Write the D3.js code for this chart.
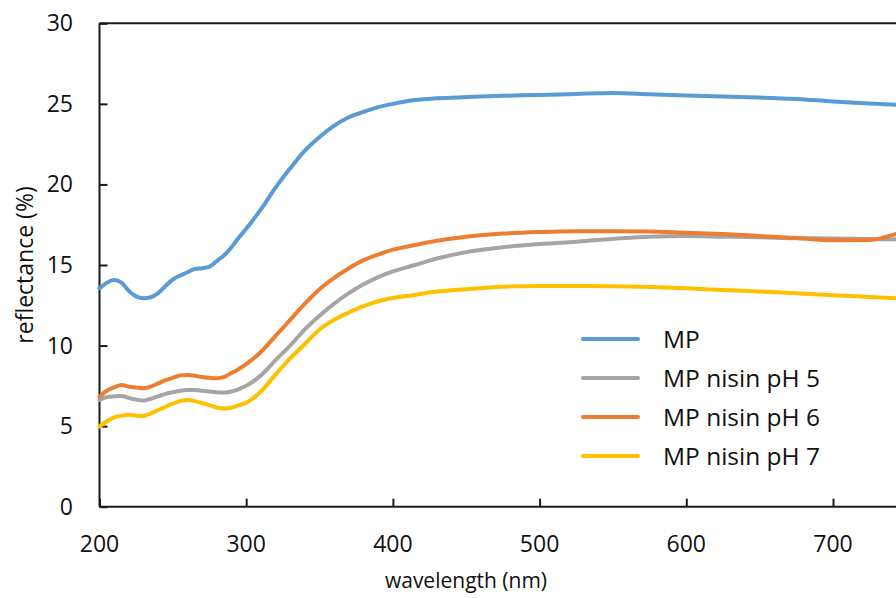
<!DOCTYPE html>
<html>
<head>
<meta charset="utf-8">
<script src="https://cdn.jsdelivr.net/npm/d3@7/dist/d3.min.js"></script>
<style>
  html, body { margin: 0; padding: 0; background: #fff; }
  svg { display: block; font-family: "Open Sans", "Liberation Sans", sans-serif; }
</style>
</head>
<body>
<svg id="chart" width="896" height="598"></svg>
<script>
// Wavelength grid (nm)
const wavelength = [200, 205, 210, 215, 220, 225, 230, 235, 240, 245, 250, 255, 260, 265, 270, 275, 280, 285, 290, 295,
  300, 310, 320, 330, 340, 350, 360, 370, 380, 390, 400, 415, 430, 450, 475, 500, 525, 550, 575, 600,
  625, 650, 675, 700, 725, 735, 745];

// Reflectance (%) per sample
const mp = [13.56, 13.9, 14.07, 13.9, 13.4, 13.05, 12.94, 13.0, 13.25, 13.7, 14.1, 14.35, 14.55, 14.75, 14.8, 14.9, 15.25, 15.6, 16.1, 16.7,
  17.25, 18.45, 19.8, 21.0, 22.1, 22.95, 23.65, 24.17, 24.5, 24.8, 25.0, 25.24, 25.35, 25.42, 25.5, 25.55, 25.62, 25.68, 25.6, 25.52,
  25.45, 25.39, 25.3, 25.15, 25.03, 24.98, 24.93];
const ph5 = [6.62, 6.8, 6.85, 6.87, 6.75, 6.65, 6.58, 6.7, 6.85, 7.0, 7.1, 7.2, 7.24, 7.24, 7.2, 7.15, 7.1, 7.08, 7.15, 7.3,
  7.5, 8.15, 9.1, 10.0, 11.0, 11.85, 12.6, 13.25, 13.8, 14.25, 14.6, 15.0, 15.4, 15.8, 16.1, 16.3, 16.45, 16.62, 16.76, 16.8,
  16.76, 16.72, 16.66, 16.65, 16.62, 16.6, 16.6];
const ph6 = [6.83, 7.2, 7.4, 7.55, 7.45, 7.4, 7.35, 7.45, 7.65, 7.85, 8.0, 8.15, 8.18, 8.13, 8.05, 8.0, 7.97, 8.05, 8.3, 8.55,
  8.85, 9.6, 10.6, 11.6, 12.6, 13.5, 14.2, 14.8, 15.3, 15.65, 15.95, 16.24, 16.5, 16.75, 16.95, 17.05, 17.1, 17.1, 17.08, 17.0,
  16.92, 16.8, 16.67, 16.53, 16.55, 16.72, 17.0];
const ph7 = [4.97, 5.3, 5.55, 5.65, 5.7, 5.65, 5.63, 5.8, 6.0, 6.2, 6.4, 6.55, 6.62, 6.55, 6.42, 6.3, 6.15, 6.1, 6.15, 6.3,
  6.45, 7.15, 8.2, 9.2, 10.1, 11.0, 11.6, 12.05, 12.45, 12.75, 12.95, 13.14, 13.35, 13.5, 13.65, 13.7, 13.7, 13.68, 13.63, 13.55,
  13.45, 13.35, 13.25, 13.12, 13.02, 12.97, 12.92];

const seriesNames = ["MP", "MP nisin pH 5", "MP nisin pH 6", "MP nisin pH 7"];
const seriesColors = ["#5B9BD5", "#A5A5A5", "#ED7D31", "#FFC000"];
const xTicks = [200, 300, 400, 500, 600, 700];
const yTicks = [0, 5, 10, 15, 20, 25, 30];

const series = [mp, ph5, ph6, ph7].map((vals, i) => ({
  name: seriesNames[i],
  color: seriesColors[i],
  points: wavelength.map((w, j) => [w, vals[j]])
}));

const svg = d3.select("#chart");
const plotLeft = 99.5, plotTop = 23.3, plotBottom = 506.7;
const pxPerNm = 1.467;

const x = d3.scaleLinear().domain([200, 800]).range([plotLeft, plotLeft + 600 * pxPerNm]);
const y = d3.scaleLinear().domain([0, 30]).range([plotBottom, plotTop]);

const axisColor = "#1a1a1a";

// Frame: top border
svg.append("line")
  .attr("x1", plotLeft).attr("x2", x(800))
  .attr("y1", plotTop).attr("y2", plotTop)
  .attr("stroke", axisColor).attr("stroke-width", 2);

// Y axis (ticks pointing inward)
const yAxis = svg.append("g")
  .attr("transform", `translate(${plotLeft},0)`)
  .call(d3.axisRight(y).tickValues(yTicks).tickSize(8).tickFormat(""));
yAxis.select(".domain").remove();
yAxis.selectAll("line").attr("stroke", axisColor).attr("stroke-width", 2);
svg.append("line")
  .attr("x1", plotLeft).attr("x2", plotLeft).attr("y1", plotTop).attr("y2", plotBottom)
  .attr("stroke", axisColor).attr("stroke-width", 2);

svg.append("g").selectAll("text")
  .data(yTicks).join("text")
  .attr("x", 73).attr("y", d => y(d))
  .attr("dy", "0.35em")
  .attr("text-anchor", "end")
  .attr("font-size", 23).attr("fill", "#111")
  .text(d => d);

// X axis (ticks pointing inward)
const xAxis = svg.append("g")
  .attr("transform", `translate(0,${plotBottom})`)
  .call(d3.axisTop(x).tickValues([...xTicks, 800]).tickSize(8).tickFormat(""));
xAxis.select(".domain").remove();
xAxis.selectAll("line").attr("stroke", axisColor).attr("stroke-width", 2);
svg.append("line")
  .attr("x1", plotLeft).attr("x2", x(800)).attr("y1", plotBottom).attr("y2", plotBottom)
  .attr("stroke", axisColor).attr("stroke-width", 2);

svg.append("g").selectAll("text")
  .data(xTicks).join("text")
  .attr("x", d => x(d)).attr("y", 552)
  .attr("text-anchor", "middle")
  .attr("font-size", 23).attr("fill", "#111")
  .text(d => d);

// Axis titles
svg.append("text")
  .attr("x", 466).attr("y", 588)
  .attr("text-anchor", "middle")
  .attr("font-size", 21).attr("fill", "#111")
  .text("wavelength (nm)");

svg.append("text")
  .attr("transform", `translate(33,${(plotTop + plotBottom) / 2}) rotate(-90)`)
  .attr("text-anchor", "middle")
  .attr("font-size", 23).attr("fill", "#111")
  .text("reflectance (%)");

// Spectra
const line = d3.line()
  .x(d => x(d[0]))
  .y(d => y(d[1]))
  .curve(d3.curveMonotoneX);

svg.append("g").selectAll("path")
  .data(series).join("path")
  .attr("d", d => line(d.points))
  .attr("fill", "none")
  .attr("stroke", d => d.color)
  .attr("stroke-width", 4)
  .attr("stroke-linejoin", "round")
  .attr("stroke-linecap", "round");

// Legend
const legend = svg.append("g");
const legendRows = legend.selectAll("g")
  .data(series).join("g")
  .attr("transform", (d, i) => `translate(583,${339 + i * 39})`);
legendRows.append("line")
  .attr("x1", 0).attr("x2", 55)
  .attr("stroke", d => d.color)
  .attr("stroke-width", 4)
  .attr("stroke-linecap", "round");
legendRows.append("text")
  .attr("x", 80).attr("dy", "0.35em")
  .attr("font-size", 24.5).attr("fill", "#111")
  .text(d => d.name);
</script>
</body>
</html>
